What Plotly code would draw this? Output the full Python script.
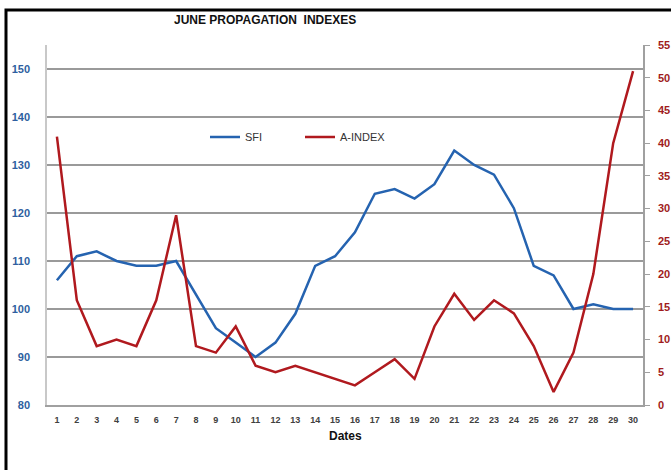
import plotly.graph_objects as go

dates = list(range(1, 31))
sfi = [106, 111, 112, 110, 109, 109, 110, 103, 96, 93, 90, 93, 99, 109, 111,
       116, 124, 125, 123, 126, 133, 130, 128, 121, 109, 107, 100, 101, 100, 100]
a_index = [41, 16, 9, 10, 9, 16, 29, 9, 8, 12, 6, 5, 6, 5, 4,
           3, 5, 7, 4, 12, 17, 13, 16, 14, 9, 2, 8, 20, 40, 51]
left_ticks = [80, 90, 100, 110, 120, 130, 140, 150]
right_ticks = list(range(0, 60, 5))

W, H = 671, 470
L, R, T, B = 47, 643, 45, 405

def px(x):
    return (x - L) / (R - L)

def py(y):
    return (B - y) / (B - T)

FONT = "Liberation Sans, Arial"
BLUE = "#2563B0"
RED = "#B0191E"

fig = go.Figure()
fig.add_trace(go.Scatter(x=dates, y=sfi, name="SFI", mode="lines",
                         line=dict(color=BLUE, width=2.5)))
fig.add_trace(go.Scatter(x=dates, y=a_index, name="A-INDEX", mode="lines",
                         line=dict(color=RED, width=2.5), yaxis="y2"))

fig.update_layout(
    width=W, height=H,
    margin=dict(l=L, r=W - R, t=T, b=H - B, autoexpand=False),
    paper_bgcolor="white", plot_bgcolor="white",
    font=dict(family=FONT),
    showlegend=True,
    legend=dict(orientation="h", x=px(205), y=py(137), xanchor="left", yanchor="middle",
                entrywidth=50, entrywidthmode="pixels",
                font=dict(size=11, color="#333333", family=FONT),
                bgcolor="rgba(0,0,0,0)", itemwidth=30),
    xaxis=dict(type="linear", range=[0.5, 30.5], tickmode="array", tickvals=dates,
               ticktext=["<b>%d</b>" % d for d in dates], showgrid=False, zeroline=False,
               showline=True, linecolor="#A0A0A0", linewidth=1.5, ticks="",
               tickfont=dict(size=9, color="#404040", family=FONT),
               ticklabelstandoff=5, automargin=False),
    yaxis=dict(range=[80, 155], tickmode="array", tickvals=left_ticks,
               ticktext=["<b>%d</b>" % v for v in left_ticks],
               showgrid=True, gridcolor="#9A9A9A", gridwidth=1.5, zeroline=False,
               showline=True, linecolor="#C8C8C8", linewidth=1.5, ticks="",
               tickfont=dict(size=11, color="#2E5FA0", family=FONT),
               ticklabelstandoff=13, automargin=False),
    yaxis2=dict(range=[0, 55], overlaying="y", side="right", tickmode="array",
                tickvals=right_ticks, ticktext=["<b>%d</b>" % v for v in right_ticks],
                showgrid=False, zeroline=False, showline=True, linecolor="#A0A0A0",
                linewidth=1.5, ticks="outside", ticklen=5, tickcolor="#A0A0A0",
                tickfont=dict(size=11, color="#A01C1C", family=FONT),
                ticklabelstandoff=6, automargin=False),
    annotations=[
        dict(text="<b>JUNE PROPAGATION  INDEXES</b>", x=px(265), y=py(20),
             xref="paper", yref="paper", showarrow=False, xanchor="center", yanchor="middle",
             font=dict(size=12, color="#111111", family=FONT)),
        dict(text="<b>Dates</b>", x=px(345), y=py(436),
             xref="paper", yref="paper", showarrow=False, xanchor="center", yanchor="middle",
             font=dict(size=12, color="#111111", family=FONT)),
    ],
    shapes=[
        dict(type="path", xref="paper", yref="paper",
             path="M %f %f L %f %f L %f %f" % (px(6), py(480), px(6), py(10), px(680), py(10)),
             line=dict(color="black", width=3)),
    ],
)

fig.write_html("out.html", config={"displayModeBar": False},
               post_script="document.body.style.margin='0';document.body.style.overflow='hidden';")
